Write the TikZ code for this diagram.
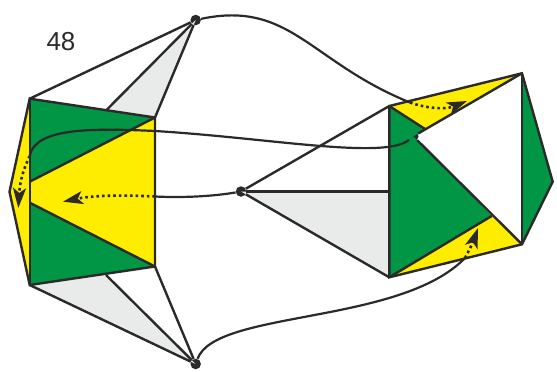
\documentclass[tikz,border=0pt]{standalone}
\usepackage{fontspec}
\setmainfont{Liberation Sans}
\usetikzlibrary{arrows.meta}

\definecolor{grline}{HTML}{2B2A29}
\definecolor{grgreen}{HTML}{009646}
\definecolor{gryellow}{HTML}{FFED00}
\definecolor{grgray}{HTML}{E9EBEB}

\tikzset{
    edgeline/.style={draw=grline, line width=2.4pt, line join=miter},
    curveline/.style={draw=grline, line width=2.2pt},
    dotline/.style={draw=grline, line width=2.6pt, dash pattern=on 2.6pt off 3pt,
        -{Stealth[length=20pt, width=13pt, inset=5pt]}},
    vertexdot/.style={circle, fill=grline, inner sep=0pt, minimum size=10.5pt}
}

\begin{document}
\begin{tikzpicture}[x=1pt, y=-1pt]
\useasboundingbox (0,0) rectangle (557,372);

% Вершины
\node[vertexdot] (top) at (195.7,20) {};
\node[vertexdot] (bottom) at (195.7,364) {};
\node[vertexdot] (center) at (241,191.5) {};
\node[vertexdot] (right) at (413.3,136.3) {};

% Левая фигура
\coordinate (a) at (29.7,98.7);
\coordinate (d) at (155,117.5);
\coordinate (e) at (155,266.5);
\coordinate (f) at (29.7,285);
\coordinate (g) at (9.5,191.7);
\coordinate (h) at (29.7,181.7);
\coordinate (i) at (29.7,202.7);
\coordinate (t1) at (106,110.5);
\coordinate (b1) at (106,275);

% Правая фигура
\coordinate (p1) at (389.3,106);
\coordinate (p2) at (522,73.3);
\coordinate (p3) at (552.7,181.7);
\coordinate (p4) at (522,244.3);
\coordinate (p5) at (389.3,277.3);
\coordinate (q1) at (425,129);
\coordinate (q2) at (491.7,216);
\coordinate (m) at (389.3,191.5);

% Серые области
\fill[grgray] (top.center) -- (t1) -- (d) -- cycle;
\fill[grgray] (bottom.center) -- (b1) -- (f) -- cycle;
\fill[grgray] (center.center) -- (m) -- (p5) -- cycle;

% Цветные области
\fill[gryellow] (a) -- (g) -- (f) -- cycle;
\fill[grgreen] (a) -- (d) -- (e) -- (f) -- cycle;
\fill[gryellow] (d) -- (h) -- (i) -- (e) -- cycle;
\fill[grgreen] (p1) -- (q1) -- (right.center) -- (q2) -- (p5) -- cycle;
\fill[gryellow] (p1) -- (p2) -- (q1) -- cycle;
\fill[gryellow] (p5) -- (q2) -- (p4) -- cycle;
\fill[grgreen] (p2) -- (p3) -- (p4) -- cycle;

% Контуры
\draw[edgeline] (a) -- (g) -- (f) -- (e) -- (d) -- cycle;
\draw[edgeline] (a) -- (f);
\draw[edgeline] (d) -- (h);
\draw[edgeline] (e) -- (i);
\draw[edgeline] (top) -- (a);
\draw[edgeline] (top) -- (t1);
\draw[edgeline] (top) -- (d);
\draw[edgeline] (bottom) -- (f);
\draw[edgeline] (bottom) -- (b1);
\draw[edgeline] (bottom) -- (e);
\draw[edgeline] (p1) -- (p2) -- (p3) -- (p4) -- (p5) -- cycle;
\draw[edgeline] (p2) -- (p4);
\draw[edgeline] (p2) -- (right);
\draw[edgeline] (p1) -- (q1);
\draw[edgeline] (right) -- (p4);
\draw[edgeline] (q2) -- (p5);
\draw[edgeline] (center) -- (p1);
\draw[edgeline] (center) -- (m);
\draw[edgeline] (center) -- (p5);

% Концы кривых
\coordinate (c1) at (410,102.5);
\coordinate (c2) at (155,196.5);
\coordinate (c3) at (29.7,156);
\coordinate (c4) at (465,258);

% Кривые
\draw[curveline] (top) .. controls (290,0) and (310,62) .. (c1);
\draw[curveline] (center) .. controls (215,196) and (185,198) .. (c2);
\draw[curveline] (right) .. controls (385,160) and (270,138) .. (155,131)
    .. controls (90,128) and (35,128) .. (c3);
\draw[curveline] (bottom) .. controls (215,310) and (400,325) .. (c4);

% Стрелки
\draw[dotline] (c1) .. controls (425,108) and (445,110) .. (467,101);
\draw[dotline] (c2) .. controls (125,195) and (95,195) .. (63,201.7);
\draw[dotline] (c3) .. controls (24,168) and (20,180) .. (18.3,208);
\draw[dotline] (c4) .. controls (468,252) and (472,245) .. (478,228);

% Подпись
\node[text=grline, font=\fontsize{26}{26}\selectfont] (label) at (61,42) {48};
\end{tikzpicture}
\end{document}
